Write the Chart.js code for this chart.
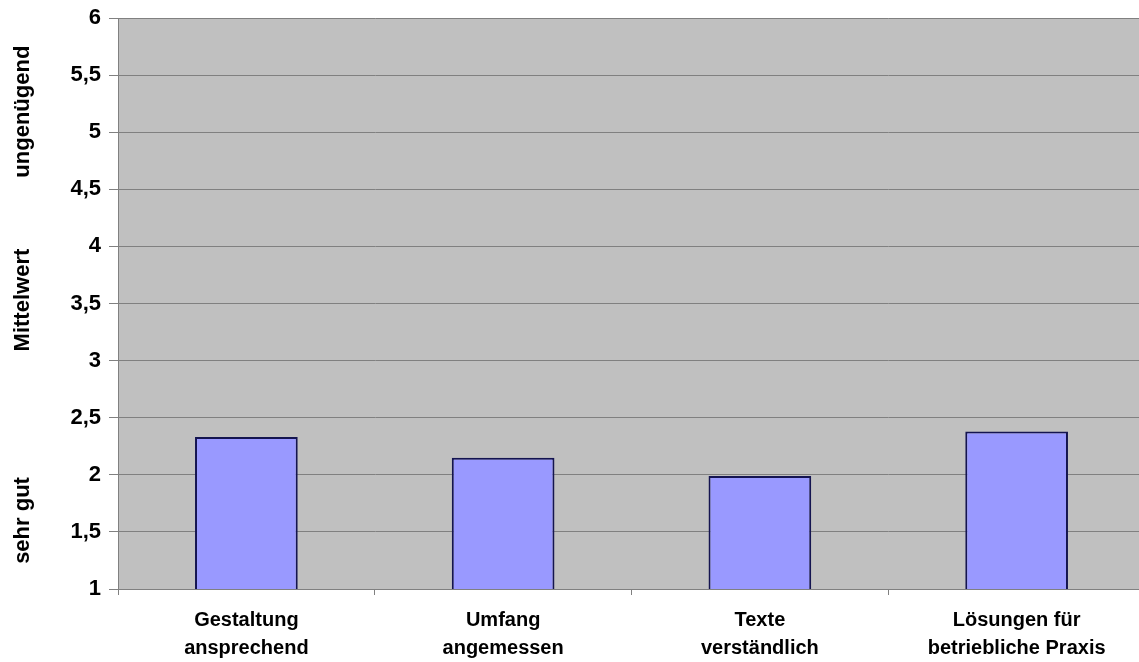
<!DOCTYPE html>
<html>
<head>
<meta charset="utf-8">
<script src="https://cdn.jsdelivr.net/npm/chart.js@4/dist/chart.umd.min.js"></script>
<style>
  html, body { margin: 0; padding: 0; background: #fff; overflow: hidden; }
  /* plot runs a few pixels past the right edge, as in the source image */
  #wrap { width: 1146px; height: 662px; }
</style>
</head>
<body>
<div id="wrap"><canvas id="c"></canvas></div>
<script>
// ── DATA ───────────────────────────────────────
const categories = [
  ['Gestaltung', 'ansprechend'],
  ['Umfang', 'angemessen'],
  ['Texte', 'verständlich'],
  ['Lösungen für', 'betriebliche Praxis']
];
const meanValues = [2.33, 2.15, 1.99, 2.38];
const yMin = 1, yMax = 6, yStep = 0.5;
// y-axis title pieces, from top to bottom, with the value they sit beside
const yTitleParts = ['ungenügend', 'Mittelwert', 'sehr gut'];
const yTitleAt    = [5.18, 3.53, 1.6];

const FONT = 'Liberation Sans, Arial, sans-serif';

// ── PLOT BACKGROUND + SPLIT AXIS TITLE ────────
const plotBg = {
  id: 'plotBg',
  beforeDraw(chart) {
    const { ctx, chartArea: a } = chart;
    ctx.save();
    ctx.fillStyle = '#c0c0c0';
    ctx.fillRect(a.left, a.top, a.right - a.left, a.bottom - a.top);
    ctx.restore();
  },
  afterDraw(chart) {
    const { ctx } = chart;
    const y = chart.scales.y;
    ctx.save();
    ctx.fillStyle = '#000';
    ctx.font = 'bold 22px ' + FONT;
    ctx.textAlign = 'center';
    ctx.textBaseline = 'middle';
    yTitleParts.forEach((t, i) => {
      ctx.save();
      ctx.translate(23, y.getPixelForValue(yTitleAt[i]));
      ctx.rotate(-Math.PI / 2);
      ctx.fillText(t, 0, 0);
      ctx.restore();
    });
    ctx.restore();
  }
};

new Chart(document.getElementById('c'), {
  type: 'bar',
  data: {
    labels: categories,
    datasets: [{
      data: meanValues,
      backgroundColor: '#9999ff',
      borderColor: '#141450',
      borderWidth: 2,
      borderSkipped: 'bottom',
      barPercentage: 0.8,
      categoryPercentage: 0.5
    }]
  },
  options: {
    responsive: true,
    maintainAspectRatio: false,
    animation: false,
    layout: { padding: { top: 18, right: 1, left: 0, bottom: 0 } },
    plugins: { legend: { display: false }, tooltip: { enabled: false } },
    scales: {
      x: {
        afterFit(s) { s.height = 73; },
        grid: { display: true, offset: true, drawOnChartArea: false, color: '#808080', tickLength: 6, tickColor: '#808080' },
        border: { color: '#808080', width: 1 },
        ticks: {
          color: '#000',
          font: { family: FONT, size: 20, weight: 'bold', lineHeight: 1.4 },
          padding: 11,
          maxRotation: 0
        }
      },
      y: {
        min: yMin, max: yMax,
        afterFit(s) { s.width = 118; },
        grid: { color: '#808080', lineWidth: 1, tickLength: 9, tickColor: '#808080' },
        border: { color: '#808080', width: 1 },
        ticks: {
          stepSize: yStep,
          color: '#000',
          font: { family: FONT, size: 22, weight: 'bold', lineHeight: 0.8 },
          padding: 8,
          callback: v => String(v).replace('.', ',')
        }
      }
    }
  },
  plugins: [plotBg]
});
</script>
</body>
</html>
